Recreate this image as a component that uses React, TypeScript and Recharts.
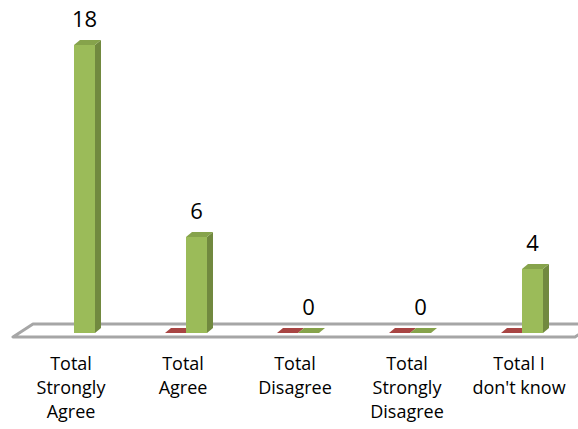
import React from 'react';
import { BarChart, Bar, XAxis, YAxis, LabelList, ReferenceArea } from 'recharts';

const categories = ['Total Strongly Agree', 'Total Agree', 'Total Disagree', 'Total Strongly Disagree', "Total I don't know"];
const tickLabelLines = [
  ['Total', 'Strongly', 'Agree'],
  ['Total', 'Agree'],
  ['Total', 'Disagree'],
  ['Total', 'Strongly', 'Disagree'],
  ['Total I', "don't know"],
];
const redValues: (number | null)[] = [null, 0, 0, 0, 0];
const greenValues = [18, 6, 0, 0, 4];

const data = categories.map((c, i) => ({ name: c, red: redValues[i], green: greenValues[i] }));

const FONT = '"Open Sans", sans-serif';
const DX = 6;
const DY = 5;

const make3D = (front: string, side: string, top: string, key: string) => (props: any) => {
  const { x, y, width, height, payload } = props;
  if (!payload || payload[key] == null) return <g />;
  const h = Math.max(height || 0, 0);
  return (
    <g>
      {h > 0 && <rect x={x} y={y} width={width} height={h} fill={front} />}
      {h > 0 && (
        <polygon
          points={`${x + width},${y} ${x + width + DX},${y - DY} ${x + width + DX},${y + h - DY} ${x + width},${y + h}`}
          fill={side}
        />
      )}
      <polygon
        points={`${x},${y} ${x + DX},${y - DY} ${x + width + DX},${y - DY} ${x + width},${y}`}
        fill={top}
      />
    </g>
  );
};

const Floor = (props: any) => {
  const { x, y, width, height } = props;
  const y0 = y + height;
  const L = x;
  const R = x + width;
  const pts = `${L - 5},${y0 + 4} ${R - 3},${y0 + 4} ${R + 17},${y0 - 9} ${L + 15},${y0 - 9}`;
  return <polygon points={pts} fill="#ffffff" stroke="#a6a6a6" strokeWidth={3} strokeLinejoin="round" />;
};

const Tick = (props: any) => {
  const { x, y, payload } = props;
  const lines = tickLabelLines[payload.index] || [payload.value];
  return (
    <g>
      {lines.map((ln, i) => (
        <text
          key={i}
          x={x - 3}
          y={y + 37 + i * 24}
          textAnchor="middle"
          fontFamily={FONT}
          fontSize={18}
          fill="#000"
        >
          {ln}
        </text>
      ))}
    </g>
  );
};

const ValueLabel = (props: any) => {
  const { x, y, width, value } = props;
  return (
    <text x={x + width / 2} y={y - 18} textAnchor="middle" fontFamily={FONT} fontSize={22} fill="#000">
      {value}
    </text>
  );
};

export default function App() {
  return (
    <div style={{ position: 'absolute', left: 0, top: 0, width: 578, height: 429, background: '#fff' }}>
      <BarChart
        width={578}
        height={429}
        data={data}
        margin={{ top: 45, right: 0, left: 18, bottom: 0 }}
        barSize={21}
        barGap={0}
      >
        <XAxis
          dataKey="name"
          axisLine={false}
          tickLine={false}
          tickSize={0}
          tickMargin={0}
          height={96}
          interval={0}
          tick={<Tick />}
        />
        <YAxis hide domain={[0, 18]} />
        <ReferenceArea y1={0} y2={1} ifOverflow="visible" shape={<Floor />} />
        <Bar dataKey="red" isAnimationActive={false} shape={make3D('#c0504d', '#8c3836', '#a84543', 'red')} />
        <Bar dataKey="green" isAnimationActive={false} shape={make3D('#9bbb59', '#71893f', '#86a34b', 'green')}>
          <LabelList dataKey="green" content={<ValueLabel />} />
        </Bar>
      </BarChart>
    </div>
  );
}
